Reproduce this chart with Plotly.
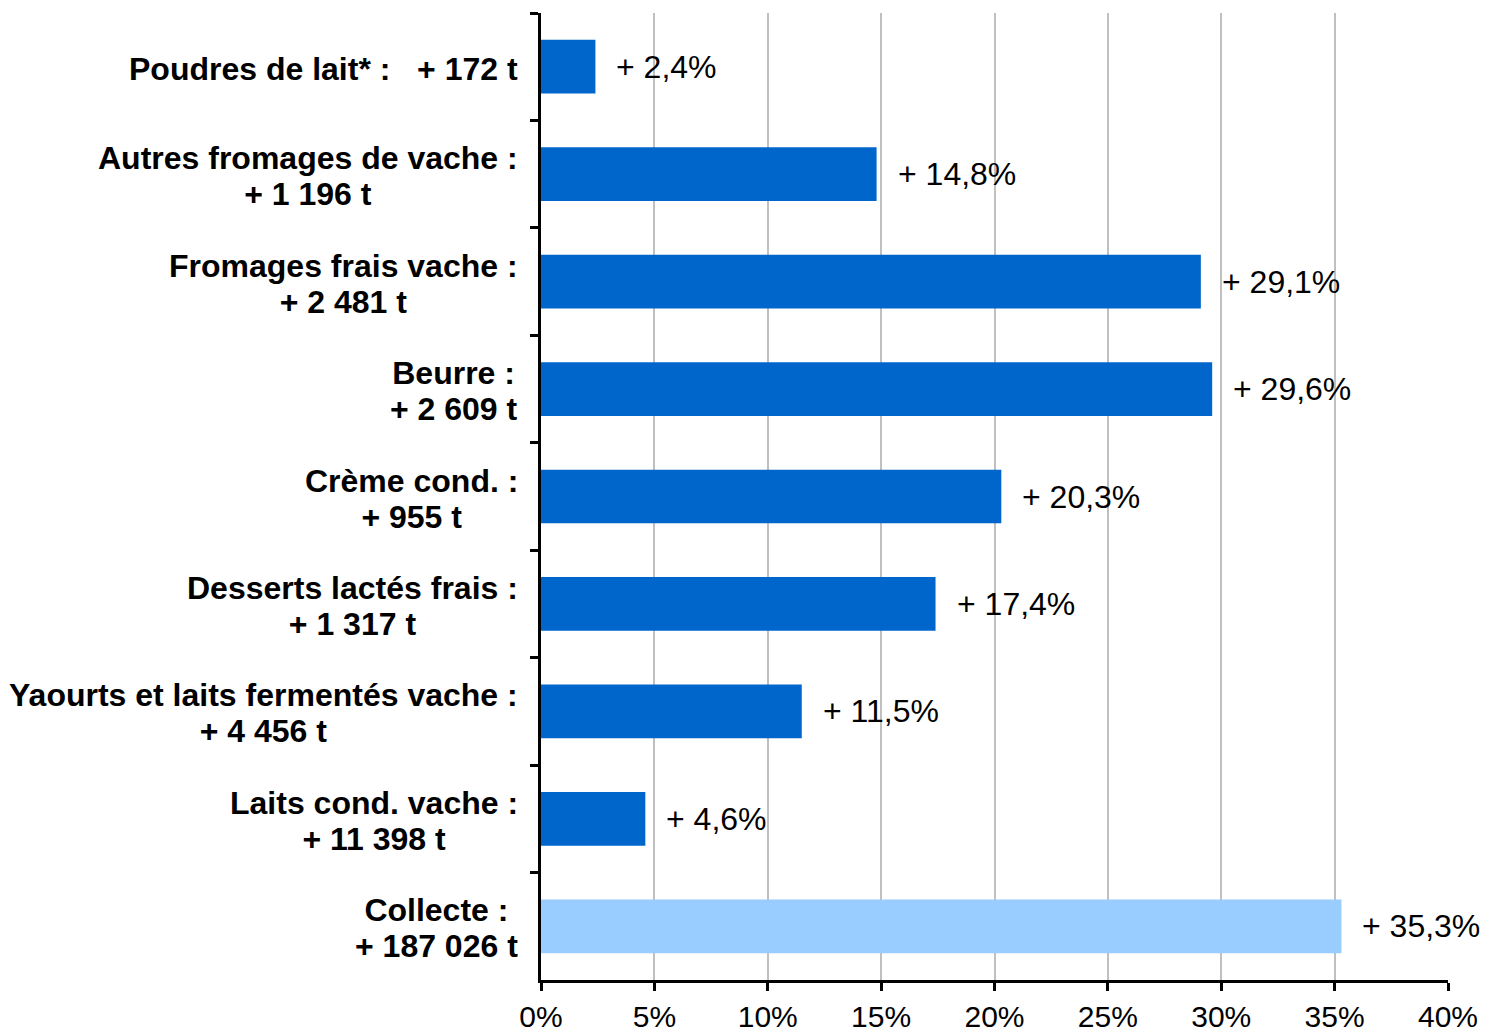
import plotly.graph_objects as go

# Produits (de haut en bas) et leurs hausses
products = [
    "Poudres de lait*", "Autres fromages de vache", "Fromages frais vache",
    "Beurre", "Crème cond.", "Desserts lactés frais",
    "Yaourts et laits fermentés vache", "Laits cond. vache", "Collecte",
]
tonnages = ["+ 172 t", "+ 1 196 t", "+ 2 481 t", "+ 2 609 t", "+ 955 t",
            "+ 1 317 t", "+ 4 456 t", "+ 11 398 t", "+ 187 026 t"]
growth_pct = [2.4, 14.8, 29.1, 29.6, 20.3, 17.4, 11.5, 4.6, 35.3]

DARK = "#0066CC"
LIGHT = "#99CCFF"
FONT = "Liberation Sans, Arial, sans-serif"

colors = [LIGHT if p == "Collecte" else DARK for p in products]

fig = go.Figure(go.Bar(
    x=growth_pct,
    y=products,
    orientation="h",
    width=0.5,
    marker=dict(color=colors, line=dict(width=0)),
    hoverinfo="skip",
))

# Etiquettes de valeurs
for prod, val in zip(products, growth_pct):
    fig.add_annotation(
        x=val, y=prod, xref="x", yref="y",
        text="+ " + f"{val:.1f}".replace(".", ",") + "%",
        showarrow=False, xanchor="left", xshift=19,
        font=dict(family=FONT, size=32, color="black"),
    )

# Etiquettes de catégories (centrées, calées à droite)
# taille de base 28 pour un interligne serré, texte affiché en 32px
for prod, tonn in zip(products, tonnages):
    if prod == "Poudres de lait*":
        inner = f"{prod} :\u00a0\u00a0\u00a0{tonn}"
        label = f'<span style="font-size:32px"><b>{inner}</b></span>'
    else:
        label = (f'<span style="font-size:32px"><b>{prod} :</b></span><br>'
                 f'<span style="font-size:32px"><b>{tonn}</b></span>')
    fig.add_annotation(
        x=0, y=prod, xref="paper", yref="y",
        text=label, showarrow=False, xanchor="right", align="center",
        xshift=-21, yshift=-2,
        font=dict(family=FONT, size=28, color="black"),
    )

fig.update_layout(
    width=1486, height=1034,
    margin=dict(l=541, r=38, t=13, b=54, autoexpand=False),
    plot_bgcolor="white", paper_bgcolor="white",
    showlegend=False,
    bargap=0.5,
    font=dict(family=FONT, size=32, color="black"),
)

fig.update_xaxes(
    range=[0, 40], dtick=5, ticksuffix="%",
    showgrid=True, gridcolor="#C0C0C0", gridwidth=2,
    showline=True, linecolor="black", linewidth=3,
    ticks="outside", ticklen=8, tickwidth=3, tickcolor="black",
    ticklabelstandoff=0,
    zeroline=False, automargin=False,
    tickfont=dict(family=FONT, size=30, color="black"),
)

fig.update_yaxes(
    categoryorder="array", categoryarray=products, autorange="reversed",
    showticklabels=False,
    showline=True, linecolor="black", linewidth=3,
    ticks="outside", ticklen=8, tickwidth=3, tickcolor="black",
    tickson="boundaries", showgrid=False, automargin=False,
)

# pas de marge de page autour du graphique, pas de barre d'outils
fig.write_html(
    "out.html",
    config={"displayModeBar": False},
    post_script="document.body.style.margin='0';document.body.style.overflow='hidden';",
)
